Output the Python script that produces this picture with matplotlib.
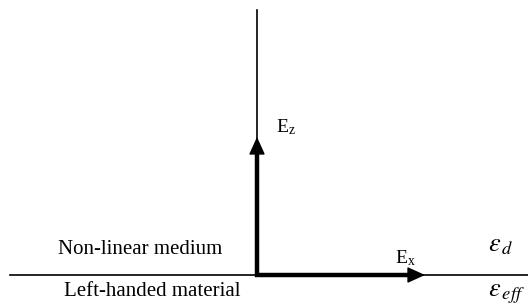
import matplotlib
matplotlib.use('Agg')
import matplotlib.pyplot as plt

# geometry in pixel space of the 528x303 canvas
origin = (257, 275)
ex_len = 168          # horizontal field arrow length
ez_len = 138          # vertical field arrow length
interface_x = [10, 528]
axis_top = 10
layer_labels = ['Non-linear medium', 'Left-handed material']
eps_labels = [r'$\varepsilon_{\,d}$', r'$\varepsilon_{\,eff}$']

plt.rcParams['mathtext.fontset'] = 'stix'
fig = plt.figure(figsize=(5.28, 3.03), dpi=100)
ax = fig.add_axes([0, 0, 1, 1])
ax.set_xlim(0, 528)
ax.set_ylim(303, 0)
ax.axis('off')

x0, y0 = origin
ax.plot(interface_x, [y0, y0], color='k', lw=1.2)
ax.plot([x0, x0], [axis_top, y0], color='k', lw=1.2)

# thick L-shaped shafts, then the two heads
hl = 13
ax.plot([x0, x0, x0 + ex_len - hl], [y0 - ez_len + hl, y0, y0], color='k', lw=3.2,
        solid_joinstyle='miter', solid_capstyle='butt')
head = dict(arrowstyle='-|>,head_length=1.1,head_width=0.5', color='k', lw=1, shrinkA=0, shrinkB=0)
ax.annotate('', xy=(x0, y0 - ez_len), xytext=(x0, y0 - ez_len + hl + 1), arrowprops=head)
ax.annotate('', xy=(x0 + ex_len, y0), xytext=(x0 + ex_len - hl - 1, y0), arrowprops=head)

serif = 'Liberation Serif'
ax.text(x0 + 19, 127, r'E$_\mathregular{z}$', family=serif, fontsize=14, va='center', ha='left')
ax.text(x0 + 138, 258, r'E$_\mathregular{x}$', family=serif, fontsize=14, va='center', ha='left')
ax.text(140, 249, layer_labels[0], family=serif, fontsize=15, va='center', ha='center')
ax.text(152, 292, layer_labels[1], family=serif, fontsize=15, va='center', ha='center')
ax.text(488, 244, eps_labels[0], fontsize=19, va='center', ha='left')
ax.text(488, 293, eps_labels[1], fontsize=19, va='center', ha='left')

fig.savefig('out.png', dpi=100)
